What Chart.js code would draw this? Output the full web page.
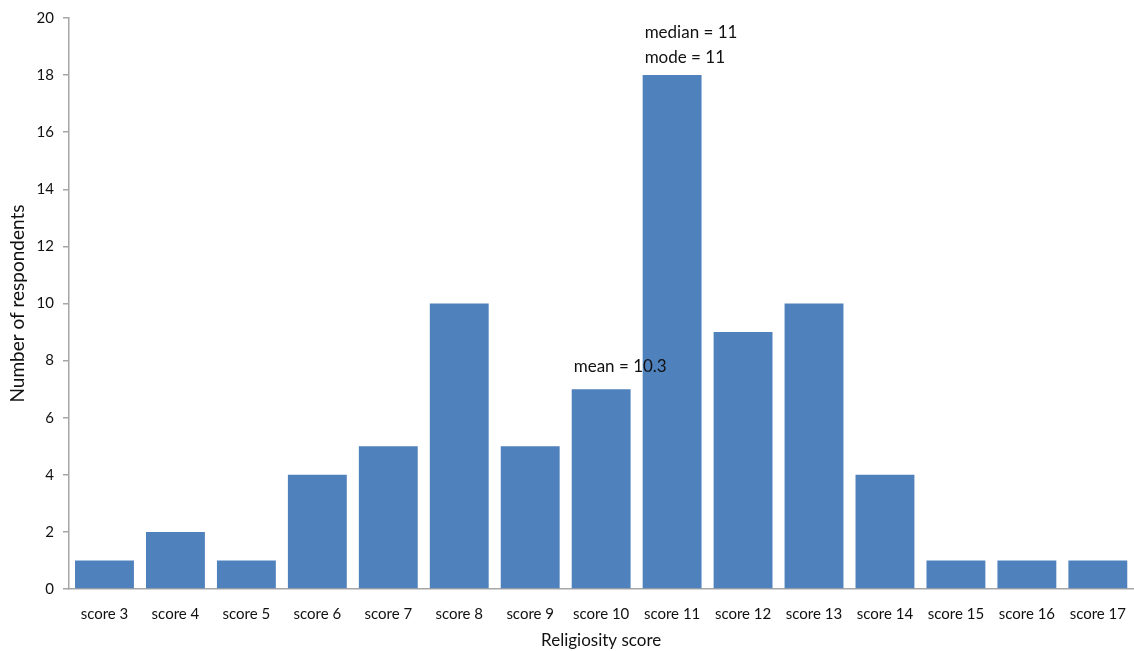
<!DOCTYPE html>
<html>
<head>
<meta charset="utf-8">
<script src="https://cdn.jsdelivr.net/npm/chart.js@4/dist/chart.umd.min.js"></script>
<style>
  html, body { margin: 0; padding: 0; background: #ffffff; }
  #wrap { width: 1134px; height: 651px; position: relative; }
</style>
</head>
<body>
<div id="wrap"><canvas id="chart"></canvas></div>
<script>
// Religiosity score distribution
const categories = ['score 3', 'score 4', 'score 5', 'score 6', 'score 7', 'score 8', 'score 9',
  'score 10', 'score 11', 'score 12', 'score 13', 'score 14', 'score 15', 'score 16', 'score 17'];
const respondents = [1, 2, 1, 4, 5, 10, 5, 7, 18, 9, 10, 4, 1, 1, 1];
const yTicks = [0, 2, 4, 6, 8, 10, 12, 14, 16, 18, 20];

// Summary statistics shown as notes over the bars
const notes = [
  { text: 'mean = 10.3', category: 'score 10', value: 7.8 },
  { text: 'median = 11', category: 'score 11', value: 19.5 },
  { text: 'mode = 11', category: 'score 11', value: 18.6 }
];

const FONT = 'Lato, "Open Sans", "DejaVu Sans", sans-serif';

const notesPlugin = {
  id: 'statNotes',
  afterDatasetsDraw(chart) {
    const { ctx, scales } = chart;
    const x = scales.x, y = scales.y;
    const halfCat = (x.getPixelForValue(1) - x.getPixelForValue(0)) / 2;
    ctx.save();
    ctx.font = '17px ' + FONT;
    ctx.fillStyle = '#111111';
    ctx.textAlign = 'left';
    ctx.textBaseline = 'middle';
    notes.forEach(n => {
      const idx = categories.indexOf(n.category);
      const px = x.getPixelForValue(idx) - halfCat + 8;
      ctx.fillText(n.text, px, y.getPixelForValue(n.value));
    });
    ctx.restore();
  }
};

new Chart(document.getElementById('chart'), {
  type: 'bar',
  data: {
    labels: categories,
    datasets: [{
      data: respondents,
      backgroundColor: '#4F81BD',
      borderWidth: 0,
      barPercentage: 0.83,
      categoryPercentage: 1.0
    }]
  },
  options: {
    responsive: true,
    maintainAspectRatio: false,
    animation: false,
    layout: { padding: { left: 0, right: -4, top: 18, bottom: 0 } },
    plugins: {
      legend: { display: false },
      tooltip: { enabled: false }
    },
    scales: {
      x: {
        grid: { display: false },
        border: { display: true, color: '#a6a6a6', width: 1.5 },
        ticks: { color: '#111111', font: { family: FONT, size: 15 }, padding: 8, maxRotation: 0, autoSkip: false },
        title: { display: true, text: 'Religiosity score', color: '#111111', font: { family: FONT, size: 17 }, padding: { top: 4, bottom: 0 } },
        afterFit(scale) { scale.height = 62; }
      },
      y: {
        min: 0,
        max: 20,
        afterBuildTicks(scale) { scale.ticks = yTicks.map(v => ({ value: v })); },
        grid: { display: true, drawOnChartArea: false, drawTicks: true, tickLength: 6, color: '#a6a6a6', lineWidth: 1.5 },
        border: { display: true, color: '#a6a6a6', width: 1.5 },
        ticks: { color: '#111111', font: { family: FONT, size: 15 }, padding: 9 },
        title: { display: true, text: 'Number of respondents', color: '#111111', font: { family: FONT, size: 19 }, padding: { top: 6, bottom: 0 } },
        afterFit(scale) { scale.width = 69; }
      }
    }
  },
  plugins: [notesPlugin]
});
</script>
</body>
</html>
